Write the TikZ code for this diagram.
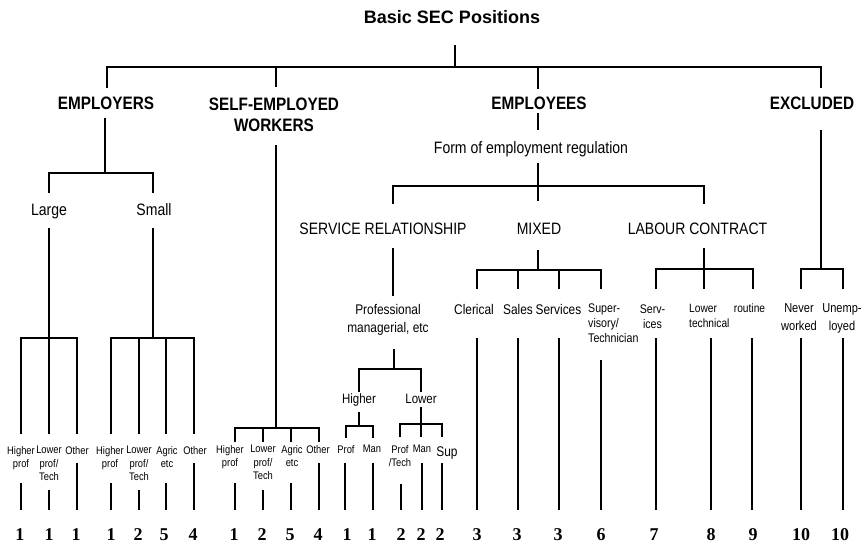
\documentclass[tikz,border=0pt]{standalone}
\usepackage{fontspec}
\setmainfont{Liberation Sans}
\newfontfamily\condf[FakeStretch=0.85]{Liberation Sans}
\newfontfamily\numf{Liberation Serif}
\newcommand\setfs[2]{\fontsize{#1}{#2}\selectfont}
\begin{document}
\begin{tikzpicture}[x=1pt,y=-1pt,
  ln/.style={line width=1.8pt},
  ttl/.style={font=\bfseries\setfs{18}{20}, inner sep=0, anchor=base},
  hd/.style={font=\condf\bfseries\setfs{18}{21}, inner sep=0, align=center},
  mid/.style={font=\condf\setfs{16.5}{19}, inner sep=0, anchor=base},
  labA/.style={font=\condf\setfs{11}{13.5}, inner sep=0, align=center, anchor=north},
  labB/.style={font=\condf\setfs{14}{18}, inner sep=0, align=center},
  labC/.style={font=\condf\setfs{14}{16}, inner sep=0, anchor=base},
  labD/.style={font=\condf\setfs{12.5}{15}, inner sep=0, align=left, anchor=north west},
  labE/.style={font=\condf\setfs{12}{15.5}, inner sep=0, align=center, anchor=north},
  labF/.style={font=\condf\setfs{13}{18}, inner sep=0, align=center, anchor=north},
  num/.style={font=\numf\bfseries\setfs{18}{18}, inner sep=0, anchor=base}]
\fill[white] (0,0) rectangle (865,544);
\useasboundingbox (0,0) rectangle (865,544);

% ---- texts ----
\node[ttl] (title) at (452,23) {Basic SEC Positions};
\node[hd, anchor=base] (emp) at (106,109.5) {EMPLOYERS};
\node[hd, anchor=north] (self) at (274,97.5) {SELF-EMPLOYED\\WORKERS};
\node[hd, anchor=base] (empl) at (539,109.5) {EMPLOYEES};
\node[hd, anchor=base] (excl) at (812,109.5) {EXCLUDED};
\node[mid] (form) at (531,153) {Form of employment regulation};
\node[mid] (large) at (49,215) {Large};
\node[mid] (small) at (154,215) {Small};
\node[mid] (serv) at (383,234) {SERVICE RELATIONSHIP};
\node[mid] (mixed) at (539,234) {MIXED};
\node[mid] (labour) at (697.5,234) {LABOUR CONTRACT};
\node[labB, anchor=north] (profman) at (388,304) {Professional\\managerial, etc};
\node[labB, font=\condf\setfs{13.5}{18}, anchor=base] (higher) at (359,403) {Higher};
\node[labB, font=\condf\setfs{13.5}{18}, anchor=base] (lower) at (421,403) {Lower};
\node[labC] (cler) at (474,314) {Clerical};
\node[labC] (sales) at (518,314) {Sales};
\node[labC] (servs) at (558.5,314) {Services};
\node[labD] (supv) at (588,303.5) {Super-\\visory/\\Technician};
\node[labE, font=\condf\setfs{12.5}{15}] (servl) at (652.5,305) {Serv-\\ices};
\node[labE, anchor=north west, align=left] (lowtech) at (689,303.7) {Lower\\technical};
\node[labE] (rout) at (749.5,303.7) {routine};
\node[labF] (never) at (799,303.5) {Never\\worked};
\node[labF] (unemp) at (842,303.5) {Unemp-\\loyed};

\node[labA] (e1) at (21,446) {Higher\\prof};
\node[labA] (e2) at (49,446) {Lower\\prof/\\Tech};
\node[labA] (e3) at (77,446) {Other};
\node[labA] (e4) at (110,446) {Higher\\prof};
\node[labA] (e5) at (139,446) {Lower\\prof/\\Tech};
\node[labA] (e6) at (167,446) {Agric\\etc};
\node[labA] (e7) at (195,446) {Other};
\node[labA] (s1) at (230,445) {Higher\\prof};
\node[labA] (s2) at (263,445) {Lower\\prof/\\Tech};
\node[labA] (s3) at (292,445) {Agric\\etc};
\node[labA] (s4) at (318,445) {Other};
\node[labA] (p1) at (346,445) {Prof};
\node[labA] (p2) at (372,445) {Man};
\node[labA] (p3) at (400,445) {Prof\\/Tech};
\node[labA] (p4) at (422,445) {Man};
\node[labA, font=\condf\setfs{14}{16}] (p5) at (447,447) {Sup};

\foreach \n/\x/\t in {n1/20/1,n2/49/1,n3/76/1,n4/111/1,n5/138/2,n6/164/5,n7/193/4,
  n8/234/1,n9/262/2,n10/290/5,n11/318/4,n12/347/1,n13/372/1,n14/401/2,n15/421/2,n16/440/2,
  n17/477/3,n18/517/3,n19/558/3,n20/601/6,n21/654/7,n22/711/8,n23/753/9,n24/801/10,n25/840/10}
  \node[num] (\n) at (\x,540) {\t};

% ---- connectors ----
% simple vertical segments: name / x / top / bottom
\foreach \n/\x/\a/\b in {
  root/455/45/67, dself/276/67/87, dempl/538/67/89,
  empst/105/118/173, largest/49/228/434, smallst/153/228/338,
  sm2/139/338/434, sm3/166/338/434,
  selfst/276/145/428, sf2/263/428/442, sf3/291/428/442,
  emplst/538/113/130, formst/538/163/186, dmix/538/186/201,
  servst/393/248/296, profst/394/349/369,
  higst/359/412/426, lowst/421/407/437,
  mixst/538/250/270, mx2/518/270/289, mx3/559/270/289,
  labst/704/248/289, exst/821/130/269,
  b1/21/483/510, b2/49/490/510, b3/77/463/510, b4/111/483/510, b5/139/490/510,
  b6/166/483/510, b7/194/463/510, b8/235/483/510, b9/263/490/510, b10/291/483/510,
  b11/319/463/510, b12/345/463/510, b13/373/463/510, b14/401/484/510, b15/422/463/510,
  b16/442/463/510, b17/477/338/510, b18/518/338/510, b19/559/338/510, b20/601/360/510,
  b21/656/338/510, b22/711/338/510, b23/752/338/510, b24/801/338/510, b25/843/338/510}
{
  \coordinate (\n-t) at (\x,\a);
  \coordinate (\n-b) at (\x,\b);
  \draw[ln] (\n-t) -- (\n-b);
}
% brackets: name / left x / right x / bar y / drop y
\foreach \n/\l/\r/\y/\d in {
  top/107/821/67/88, empbr/49/153/173/193, largebr/21/77/338/434,
  smallbr/111/194/338/434, selfbr/235/319/428/442, emplbr/393/704/186/204,
  profbr/359/421/369/392, higbr/346/373/426/438, lowbr/400/442/424/437,
  mixbr/477/601/270/289, labbr/656/753/269/289, exbr/801/843/269/289}
{
  \coordinate (\n-l) at (\l,\d);
  \coordinate (\n-lc) at (\l,\y);
  \coordinate (\n-rc) at (\r,\y);
  \coordinate (\n-r) at (\r,\d);
  \draw[ln] (\n-l) -- (\n-lc) -- (\n-rc) -- (\n-r);
}
\end{tikzpicture}
\end{document}
